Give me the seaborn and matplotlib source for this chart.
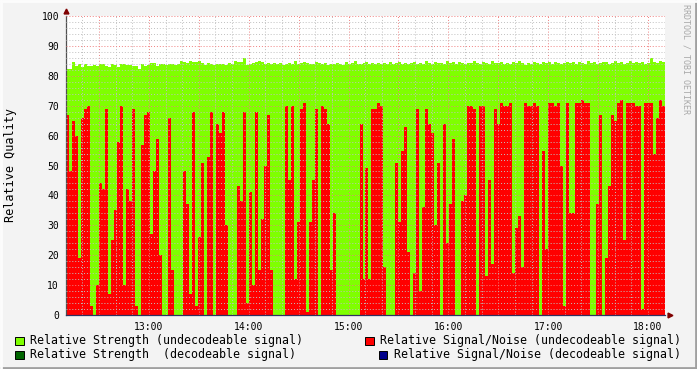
import numpy as np
import pandas as pd
import matplotlib
matplotlib.use("Agg")
import matplotlib.pyplot as plt
from matplotlib.ticker import MultipleLocator, FuncFormatter
from matplotlib.patches import Rectangle
from matplotlib.lines import Line2D
import seaborn as sns

# samples every 108 s, starting 12:10
start_hour = 12.17
step_hour = 0.03

strength_undecodeable = [
    82.3, 82.3, 84.5, 83.2, 83.8, 83.1, 84.0, 83.3, 83.3, 83.6,
    83.2, 83.9, 84.1, 83.3, 82.9, 84.0, 83.6, 82.8, 83.9, 84.0,
    83.5, 83.5, 83.3, 83.3, 82.2, 83.9, 83.4, 83.6, 84.4, 84.3,
    83.4, 84.0, 83.8, 83.5, 84.1, 84.0, 83.6, 84.0, 84.9, 84.6,
    84.2, 85.0, 84.5, 84.6, 85.0, 84.2, 83.7, 84.2, 84.0, 83.6,
    84.0, 83.8, 84.1, 83.5, 84.2, 84.0, 85.0, 84.5, 84.5, 86.0,
    83.5, 83.8, 84.3, 84.6, 85.0, 84.6, 84.0, 84.2, 83.8, 84.2,
    84.1, 84.3, 83.7, 84.0, 84.4, 84.1, 84.8, 83.9, 84.2, 84.5,
    84.2, 83.8, 84.0, 84.6, 84.2, 84.0, 84.3, 83.6, 84.1, 84.0,
    84.4, 84.1, 83.7, 84.5, 84.0, 84.2, 84.8, 84.1, 83.9, 84.4,
    84.6, 84.1, 84.3, 84.0, 84.2, 83.9, 84.4, 84.1, 84.6, 84.0,
    84.2, 84.7, 84.0, 84.3, 83.8, 84.2, 84.5, 84.0, 84.4, 84.1,
    84.9, 84.3, 84.0, 84.6, 84.2, 84.4, 84.0, 84.8, 84.2, 84.5,
    84.1, 84.6, 84.3, 84.0, 84.4, 84.2, 84.9, 84.3, 84.1, 84.5,
    84.3, 84.0, 84.8, 84.2, 84.4, 84.6, 84.1, 84.3, 84.0, 84.5,
    84.2, 84.8, 84.3, 83.6, 84.4, 84.1, 84.7, 84.2, 84.0, 84.6,
    84.3, 84.5, 84.1, 84.7, 84.3, 83.9, 84.4, 84.6, 84.2, 84.5,
    84.0, 84.6, 84.3, 84.1, 84.8, 84.2, 84.5, 84.0, 84.3, 84.7,
    84.5, 84.1, 84.4, 84.8, 84.2, 84.6, 84.0, 84.3, 84.9, 84.2,
    84.6, 84.3, 84.7, 84.1, 84.4, 85.8, 84.5, 84.2, 84.9, 84.5,
]

snr_undecodeable = [
    67, 48, 65, 60, 19, 66, 69, 70, 3, 0,
    10, 44, 42, 69, 7, 25, 35, 58, 70, 10,
    42, 38, 69, 3, 0, 57, 67, 68, 27, 48,
    59, 20, 0, 0, 66, 15, 0, 0, 0, 48,
    37, 7, 68, 3, 26, 51, 0, 53, 68, 0,
    64, 61, 68, 30, 0, 0, 0, 43, 38, 68,
    4, 41, 10, 68, 15, 32, 50, 67, 15, 0,
    0, 0, 0, 70, 45, 70, 12, 31, 69, 71,
    1, 31, 45, 69, 0, 70, 69, 64, 15, 34,
    0, 0, 0, 0, 0, 0, 0, 0, 64, 12,
    49, 12, 69, 69, 71, 70, 16, 0, 0, 0,
    51, 31, 55, 63, 21, 0, 14, 69, 8, 36,
    69, 64, 61, 30, 51, 0, 64, 24, 37, 59,
    0, 0, 38, 40, 70, 70, 69, 0, 70, 70,
    13, 45, 17, 69, 64, 71, 70, 70, 71, 14,
    29, 33, 16, 71, 70, 70, 71, 70, 0, 55,
    22, 71, 71, 70, 71, 50, 3, 71, 34, 34,
    71, 71, 72, 71, 71, 0, 0, 37, 67, 0,
    19, 43, 67, 65, 71, 72, 25, 71, 71, 71,
    70, 70, 2, 71, 71, 71, 54, 66, 72, 70,
]

n = len(snr_undecodeable)
edges = list(start_hour + step_hour * np.arange(n + 1))
df = pd.DataFrame({
    'hour': start_hour + step_hour * (np.arange(n) + 0.5),
    'strength': strength_undecodeable,
    'snr': snr_undecodeable,
})

sns.set_style("white")
plt.rcParams['font.family'] = ['DejaVu Sans Mono', 'DejaVu Sans']

fig = plt.figure(figsize=(6.97, 3.69), dpi=100, facecolor='#f3f3f3')
W, H = 697.0, 369.0
ax = fig.add_axes([66 / W, 1 - 315 / H, 599 / W, 299 / H])
ax.set_facecolor('white')

sns.histplot(data=df, x='hour', weights='strength', bins=edges, element='step',
             fill=True, color='#7fff00', alpha=1, linewidth=0, ax=ax)
sns.histplot(data=df, x='hour', weights='snr', bins=edges, element='step',
             fill=True, color='#ff0000', alpha=1, linewidth=0, ax=ax)

ax.set_xlim(start_hour, start_hour + step_hour * n)
ax.set_ylim(0, 100)
ax.set_xlabel('')
ax.set_ylabel('')

ax.yaxis.set_major_locator(MultipleLocator(10))
ax.yaxis.set_minor_locator(MultipleLocator(2))
ax.xaxis.set_major_locator(MultipleLocator(0.5))
ax.xaxis.set_minor_locator(MultipleLocator(1 / 6))


def hour_label(h, pos):
    if abs(h - round(h)) < 1e-6:
        return f"{int(round(h)):02d}:00"
    return ''


ax.xaxis.set_major_formatter(FuncFormatter(hour_label))

ax.set_axisbelow(False)
ax.grid(which='minor', color='#c0c0c0', linestyle=(0, (1, 2)), linewidth=0.7)
ax.grid(which='major', color='#f08080', linestyle=(0, (1, 2)), linewidth=0.7)

ax.tick_params(axis='both', which='major', length=2, width=0.7, color='#f08080',
               labelsize=7, labelcolor='#000000', pad=3)
ax.tick_params(axis='both', which='minor', length=1, width=0.6, color='#c0c0c0')

for side in ['top', 'right']:
    ax.spines[side].set_visible(False)
ax.spines['left'].set_color('#505050')
ax.spines['bottom'].set_color('#303060')
ax.spines['left'].set_linewidth(0.9)
ax.spines['bottom'].set_linewidth(0.9)

# axis arrows
ax.plot([0], [1.018], marker='^', color='#7f0000', markersize=3.5,
        transform=ax.transAxes, clip_on=False)
ax.plot([1.009], [0], marker='>', color='#7f0000', markersize=3.5,
        transform=ax.transAxes, clip_on=False)

fig.text(11 / W, 1 - 165 / H, 'Relative Quality', rotation=90, ha='center',
         va='center', fontsize=8.5, color='#000000')
fig.text(686 / W, 1 - 4 / H, 'RRDTOOL / TOBI OETIKER', rotation=270, ha='center',
         va='top', fontsize=6, color='#a8a8a8')

# legend
legend_items = [
    (15, 340.5, '#7fff00', 'Relative Strength (undecodeable signal)'),
    (15, 354.5, '#006400', 'Relative Strength  (decodeable signal)'),
    (365, 340.5, '#ff0000', 'Relative Signal/Noise (undecodeable signal)'),
    (379, 354.5, '#00008b', 'Relative Signal/Noise (decodeable signal)'),
]
for x0, yc, col, label in legend_items:
    fig.add_artist(Rectangle((x0 / W, 1 - (yc + 4.5) / H), 8.5 / W, 8.5 / H,
                             transform=fig.transFigure, facecolor=col,
                             edgecolor='#000000', linewidth=0.7))
    fig.text((x0 + 15) / W, 1 - yc / H, label, ha='left', va='center',
             fontsize=8.38, color='#000000')

# frame
fig.add_artist(Line2D([0, 1], [0.002, 0.002], transform=fig.transFigure,
                      color='#a0a0a0', linewidth=2))
fig.add_artist(Line2D([0.998, 0.998], [0, 1], transform=fig.transFigure,
                      color='#a0a0a0', linewidth=2))
fig.add_artist(Line2D([0, 1], [0.998, 0.998], transform=fig.transFigure,
                      color='#fcfcfc', linewidth=2))
fig.add_artist(Line2D([0.002, 0.002], [0, 1], transform=fig.transFigure,
                      color='#fcfcfc', linewidth=2))

fig.savefig('out.png', dpi=100, facecolor=fig.get_facecolor())
plt.close(fig)
